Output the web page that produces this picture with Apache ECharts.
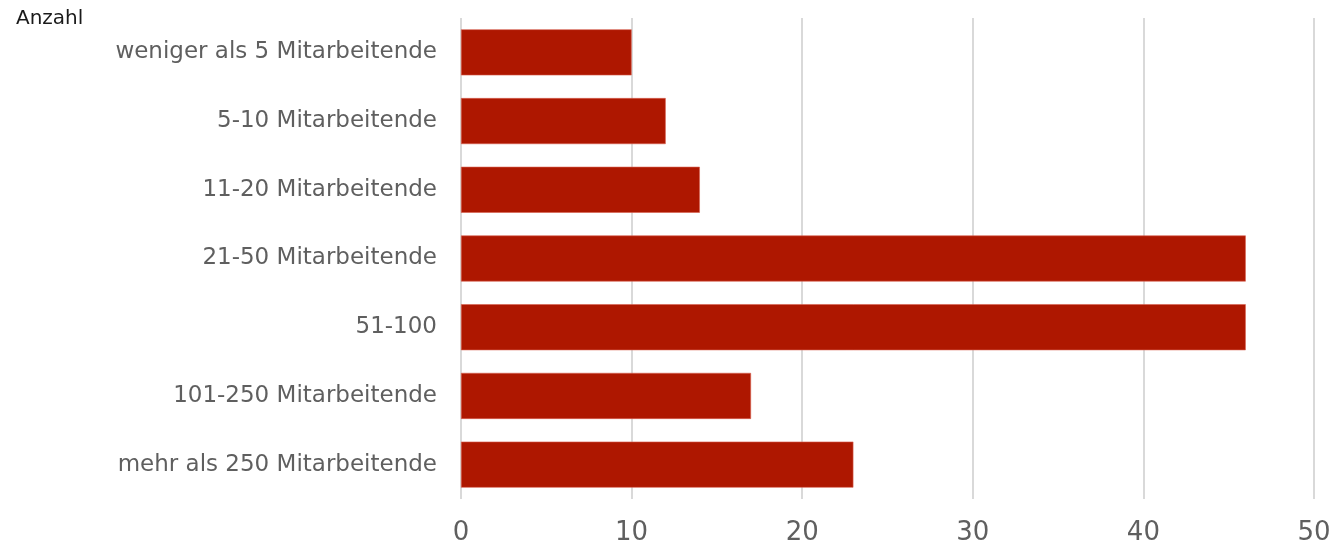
<!DOCTYPE html>
<html>
<head>
<meta charset="utf-8">
<script src="https://cdn.jsdelivr.net/npm/echarts@6/dist/echarts.min.js"></script>
<style>html,body{margin:0;padding:0;background:#fff}#c{width:1337px;height:546px}</style>
</head>
<body>
<div id="c"></div>
<script>
const categories = ["weniger als 5 Mitarbeitende","5-10 Mitarbeitende","11-20 Mitarbeitende","21-50 Mitarbeitende","51-100","101-250 Mitarbeitende","mehr als 250 Mitarbeitende"];
const values = [10, 12, 14, 46, 46, 17, 23];
const xTicks = [0, 10, 20, 30, 40, 50];
const axisTitle = "Anzahl";

const chart = echarts.init(document.getElementById('c'), null, {renderer: 'canvas'});
chart.setOption({
  animation: false,
  backgroundColor: '#fff',
  textStyle: {fontFamily: 'DejaVu Sans'},
  title: {text: axisTitle, left: 11, top: 4, textStyle: {fontSize: 20, fontWeight: 'normal', color: '#1a1a1a', fontFamily: 'DejaVu Sans'}},
  grid: {left: 461, right: 23, top: 18, bottom: 47, containLabel: false},
  xAxis: {
    type: 'value', min: xTicks[0], max: xTicks[xTicks.length-1], interval: 10,
    axisLine: {show: false}, axisTick: {show: false},
    splitLine: {show: true, lineStyle: {color: '#d9d9d9', width: 2}},
    axisLabel: {fontSize: 26, color: '#5f5f5f', margin: 21, fontFamily: 'DejaVu Sans'}
  },
  yAxis: {
    type: 'category', data: categories, inverse: true,
    axisLine: {show: false}, axisTick: {show: false},
    axisLabel: {fontSize: 23, color: '#5f5f5f', margin: 24, fontFamily: 'DejaVu Sans'}
  },
  series: [{
    type: 'bar', data: values, barWidth: '67%',
    itemStyle: {color: '#AE1700', borderColor: '#d9604f', borderWidth: 0.6}
  }]
});
</script>
</body>
</html>
